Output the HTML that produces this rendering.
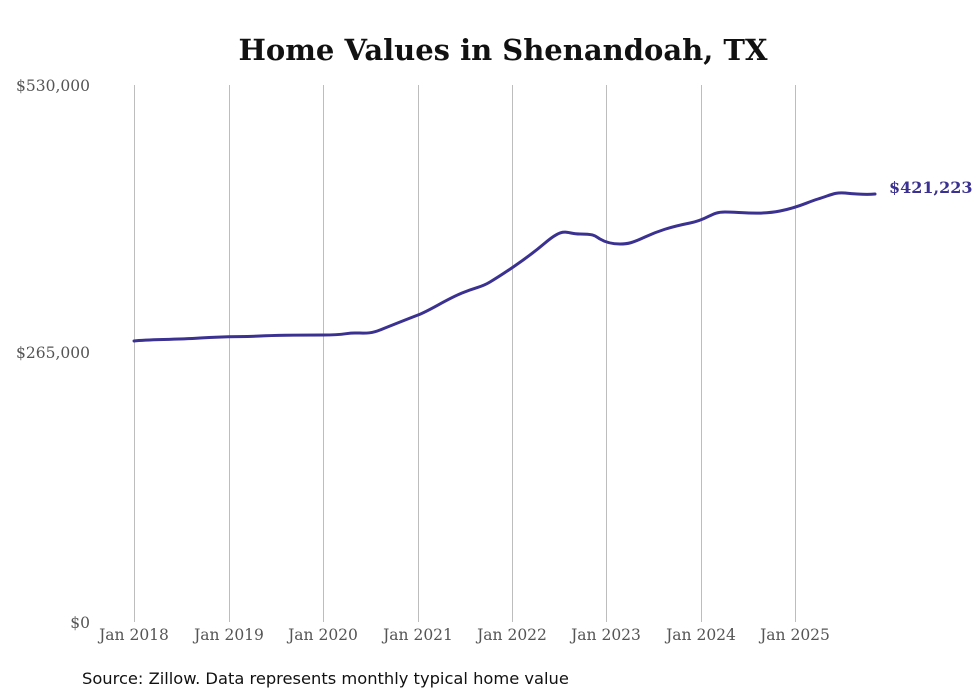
<!DOCTYPE html>
<html><head><meta charset="utf-8"><style>
html,body{margin:0;padding:0;background:#fff;width:980px;height:699px;overflow:hidden}
</style></head><body>
<svg width="980" height="699" xmlns="http://www.w3.org/2000/svg">
<rect width="980" height="699" fill="#fff"/>
<text x="503" y="60" text-anchor="middle" font-family="DejaVu Serif, serif" font-weight="bold" font-size="29" fill="#111">Home Values in Shenandoah, TX</text>
<g stroke="#bdbdbd" stroke-width="1">
<line x1="134.5" y1="85" x2="134.5" y2="622"/>
<line x1="229.5" y1="85" x2="229.5" y2="622"/>
<line x1="323.5" y1="85" x2="323.5" y2="622"/>
<line x1="418.5" y1="85" x2="418.5" y2="622"/>
<line x1="512.5" y1="85" x2="512.5" y2="622"/>
<line x1="606.5" y1="85" x2="606.5" y2="622"/>
<line x1="701.5" y1="85" x2="701.5" y2="622"/>
<line x1="795.5" y1="85" x2="795.5" y2="622"/>
</g>
<g font-family="DejaVu Serif, serif" font-size="15.5" fill="#555" text-anchor="end">
<text x="90" y="91">$530,000</text>
<text x="90" y="358">$265,000</text>
<text x="90" y="628">$0</text>
</g>
<g font-family="DejaVu Serif, serif" font-size="15.5" fill="#555" text-anchor="middle">
<text x="134" y="640">Jan 2018</text>
<text x="229" y="640">Jan 2019</text>
<text x="323" y="640">Jan 2020</text>
<text x="418" y="640">Jan 2021</text>
<text x="512" y="640">Jan 2022</text>
<text x="606" y="640">Jan 2023</text>
<text x="701" y="640">Jan 2024</text>
<text x="795" y="640">Jan 2025</text>
</g>
<path fill="none" stroke="#3a3190" stroke-width="3" stroke-linecap="round"
d="M134,341 C150,339 170,340 200,338 S240,337 260,336 S300,335 323,335 S345,333 355,333 S370,334 380,330 S405,320 418,315 S445,300 462,293 S480,288 490,282 S525,260 545,243 S565,234 580,234 S595,236 600,239 S612,244 620,244 S632,243 645,237 S670,227 690,223 S710,212 725,212 S760,215 780,211 S805,203 818,199 S835,192 845,193 S865,195 875,194"/>
<text x="889" y="193" font-family="DejaVu Serif, serif" font-weight="bold" font-size="16" fill="#3a3190">$421,223</text>
<text x="82" y="684" font-family="DejaVu Sans, sans-serif" font-size="16.3" fill="#111">Source: Zillow. Data represents monthly typical home value</text>
</svg>
</body></html>
